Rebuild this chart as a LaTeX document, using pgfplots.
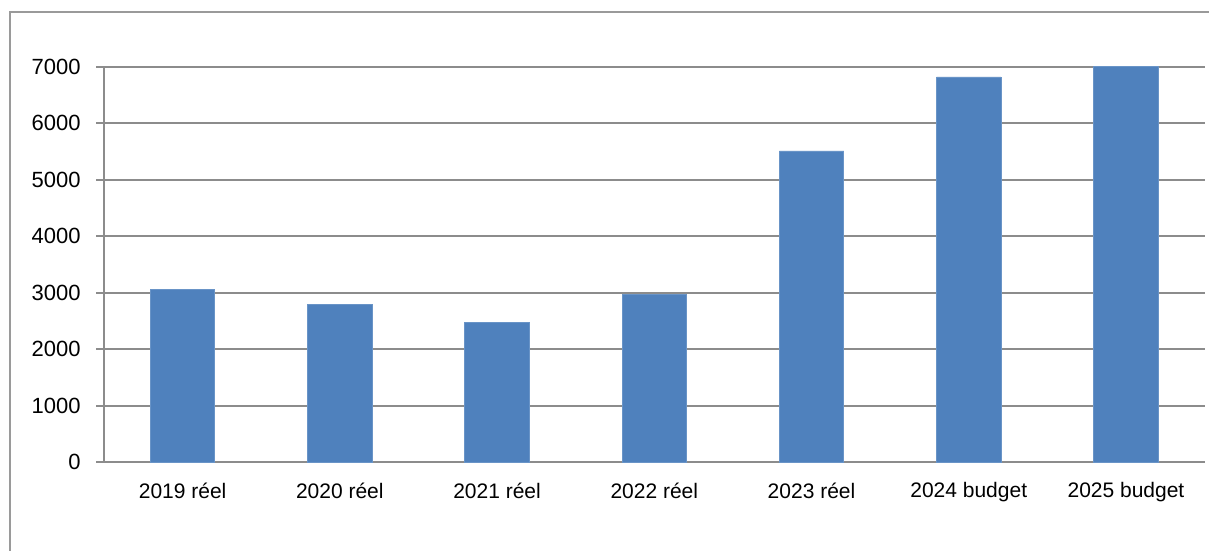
\documentclass[border=0pt]{standalone}
\usepackage{pgfplots}
\pgfplotsset{compat=1.18}
\usepackage{fontspec}
\setmainfont{Liberation Sans}
\definecolor{barblue}{HTML}{4F81BD}
\definecolor{gridgray}{HTML}{8C8C8C}
\definecolor{framegray}{HTML}{9A9A9A}
\begin{document}
\begin{tikzpicture}[x=0.5pt,y=0.5pt]
\useasboundingbox (0,0) rectangle (1209,551);
\begin{scope}
\clip (0,0) rectangle (1209,551);
\draw[framegray, line width=1pt] (10,-20) rectangle (1240,539);
\end{scope}
\begin{axis}[
  at={(52pt,44.35pt)}, anchor=south west,
  scale only axis,
  width=550.3pt, height=197.75pt,
  xmin=-0.5, xmax=6.5,
  ymin=0, ymax=7000,
  ytick={0,1000,...,7000},
  xtick={0,...,6},
  xticklabels={2019 réel,2020 réel,2021 réel,2022 réel,2023 réel,2024 budget,2025 budget},
  axis lines=left,
  axis line style={gridgray, line width=1pt, -},
  x axis line style={-},
  y axis line style={-},
  ymajorgrids,
  major grid style={gridgray, line width=1pt},
  tick align=outside,
  xtick style={draw=none},
  ytick style={gridgray, line width=1pt},
  major tick length=4pt,
  clip=false,
  /pgf/number format/assume math mode=true,
  /pgf/number format/1000 sep={},
  yticklabel style={font=\fontsize{11}{13}\selectfont, inner sep=0pt, anchor=east, xshift=-7.5pt},
  xticklabel style={font=\fontsize{10.5}{12}\selectfont, inner sep=0pt, anchor=north, yshift=-6pt},
  axis on top=false,
]
\addplot[ybar, bar width=0.41, fill=barblue, draw=barblue!85!white, line width=0.4pt] coordinates {
  (0,3060) (1,2795) (2,2480) (3,2965) (4,5510) (5,6820) (6,7000)
};
\end{axis}
\end{tikzpicture}
\end{document}
